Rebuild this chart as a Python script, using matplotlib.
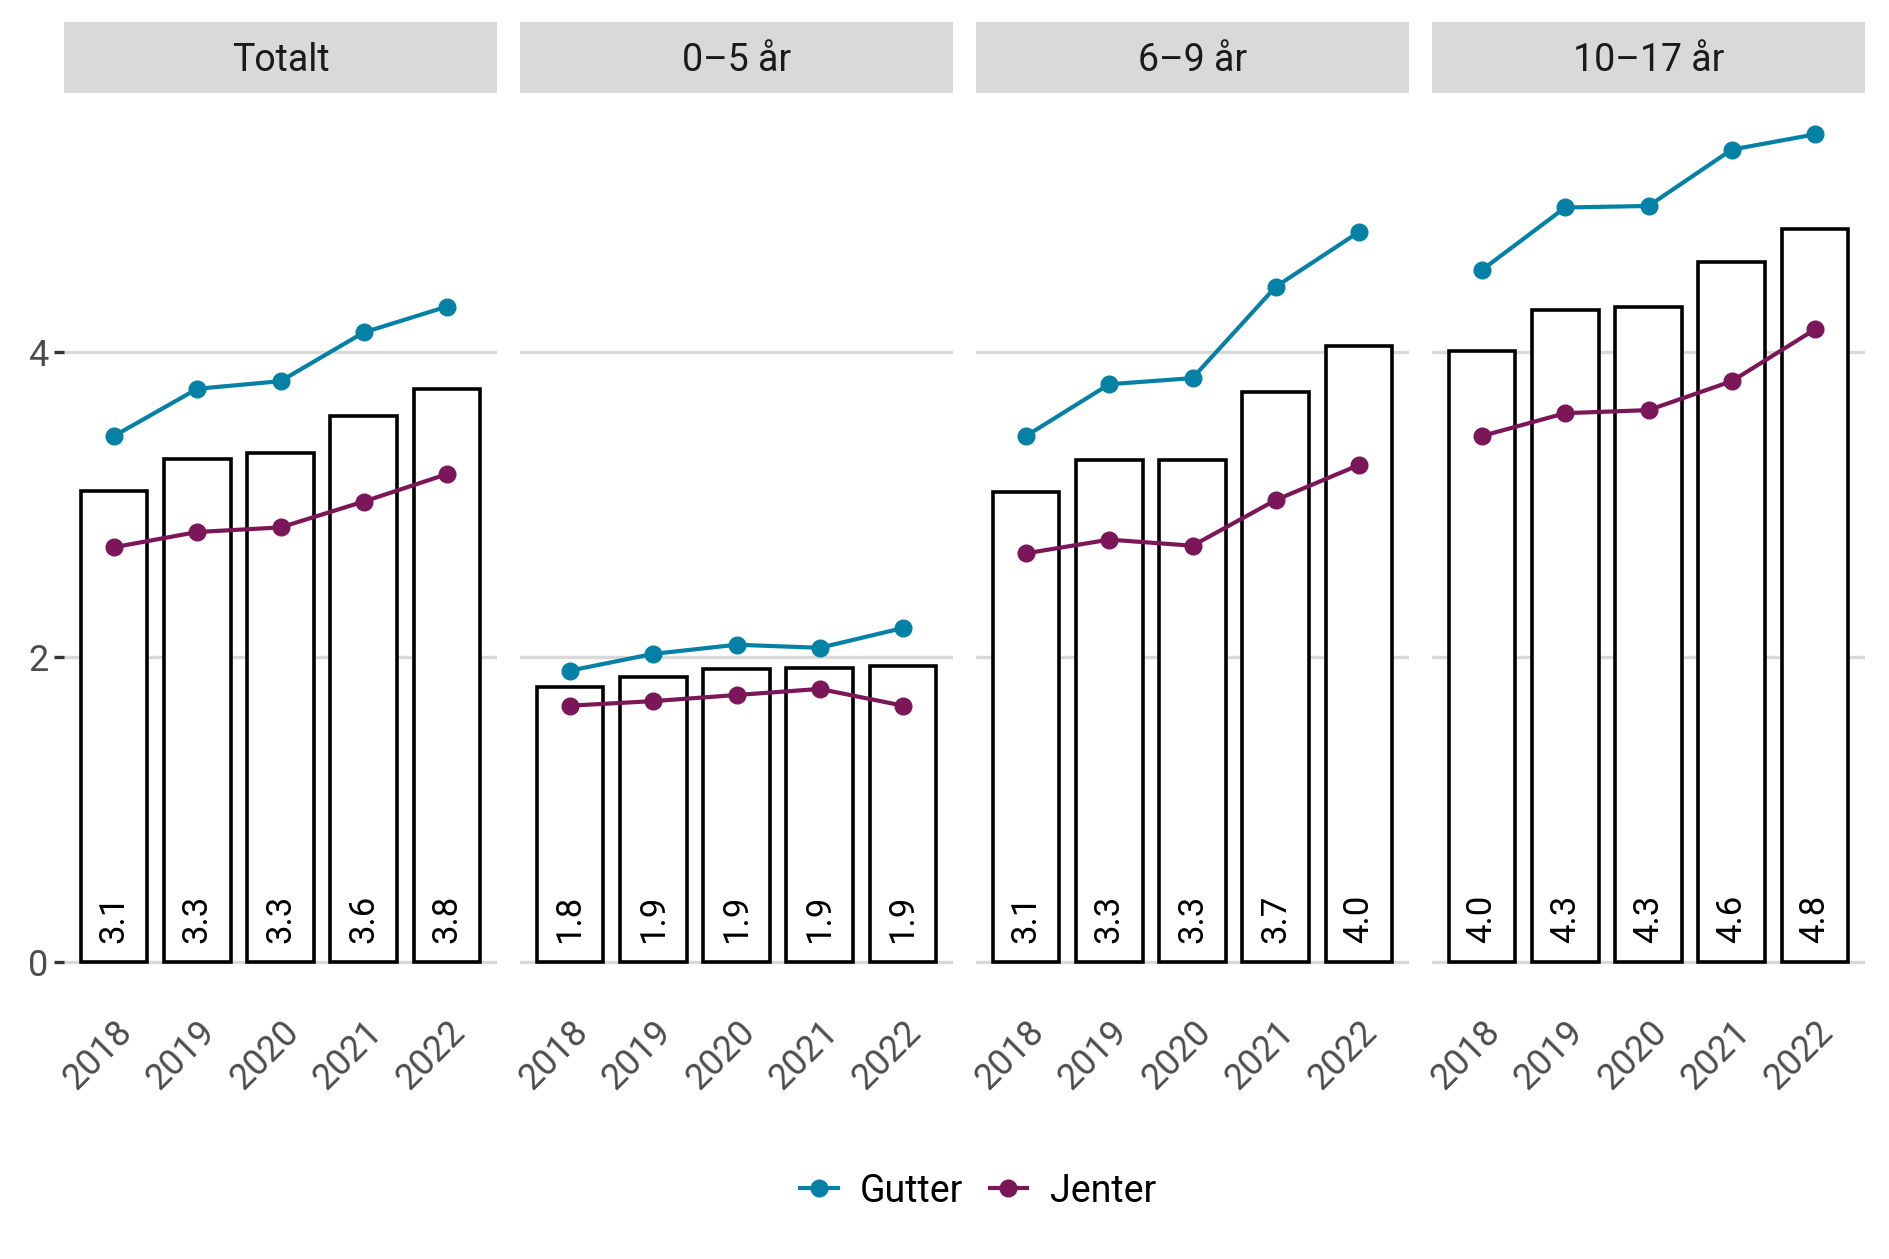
import matplotlib
matplotlib.use("Agg")
import matplotlib.pyplot as plt
from matplotlib.lines import Line2D
import numpy as np

plt.rcParams['font.family'] = ['Roboto', 'DejaVu Sans']

years = ["2018", "2019", "2020", "2021", "2022"]
panels = ["Totalt", "0\u20135 år", "6\u20139 år", "10\u201317 år"]

totals = [
    [3.09, 3.30, 3.34, 3.58, 3.76],
    [1.80, 1.87, 1.92, 1.93, 1.94],
    [3.08, 3.29, 3.29, 3.74, 4.04],
    [4.01, 4.28, 4.30, 4.59, 4.81],
]
gutter = [
    [3.45, 3.76, 3.81, 4.13, 4.30],
    [1.91, 2.02, 2.08, 2.06, 2.19],
    [3.45, 3.79, 3.83, 4.43, 4.79],
    [4.54, 4.95, 4.96, 5.33, 5.43],
]
jenter = [
    [2.72, 2.82, 2.85, 3.02, 3.20],
    [1.68, 1.71, 1.75, 1.79, 1.68],
    [2.68, 2.77, 2.73, 3.03, 3.26],
    [3.45, 3.60, 3.62, 3.81, 4.15],
]

col_g = "#0581A6"
col_j = "#7B1659"

W, H = 1889, 1259
fig = plt.figure(figsize=(W / 100, H / 100), dpi=100)

ymax = 5.43
ylim = (-0.05 * ymax, ymax * 1.05)
x = np.arange(len(years))

left0, pw, step = 64, 433, 456
ptop, pbot = 93, 1003
strip_h = 71
lw = 3.0

for i, name in enumerate(panels):
    l = (left0 + i * step) / W
    ax = fig.add_axes([l, 1 - pbot / H, pw / W, (pbot - ptop) / H])
    ax.set_xlim(-0.6, 4.6)
    ax.set_ylim(*ylim)
    for s in ax.spines.values():
        s.set_visible(False)
    ax.set_yticks([0, 2, 4])
    ax.grid(axis='y', color='#D9D9D9', linewidth=2.4, zorder=0)
    ax.set_axisbelow(True)
    ax.bar(x, totals[i], width=0.8, facecolor='white', edgecolor='black',
           linewidth=2.6, zorder=2)
    for xi, v in zip(x, totals[i]):
        ax.text(xi, 0.12, f"{v:.1f}", rotation=90, ha='left', va='center',
                rotation_mode='anchor', fontsize=25, color='black', zorder=3)
    ax.plot(x, gutter[i], color=col_g, lw=lw, marker='o', ms=12, zorder=4)
    ax.plot(x, jenter[i], color=col_j, lw=lw, marker='o', ms=12, zorder=4)
    ax.set_xticks(x)
    ax.set_xticklabels(years, rotation=45, ha='right', va='top',
                       rotation_mode='anchor', fontsize=26, color='#4D4D4D')
    ax.tick_params(axis='x', length=0, pad=8)
    if i == 0:
        ax.tick_params(axis='y', length=7, width=2.4, color='#333333',
                       labelsize=26, labelcolor='#4D4D4D', pad=4)
    else:
        ax.tick_params(axis='y', length=0, labelleft=False)

    sax = fig.add_axes([l, 1 - ptop / H, pw / W, strip_h / H])
    sax.set_facecolor('#D9D9D9')
    sax.set_xticks([])
    sax.set_yticks([])
    for s in sax.spines.values():
        s.set_visible(False)
    sax.text(0.5, 0.46, name, ha='center', va='center', fontsize=27,
             color='#1A1A1A', transform=sax.transAxes)

handles = [
    Line2D([], [], color=col_g, lw=lw, marker='o', ms=12),
    Line2D([], [], color=col_j, lw=lw, marker='o', ms=12),
]
fig.legend(handles, ["Gutter", "Jenter"], loc='center',
           bbox_to_anchor=(978 / W, 1 - 1191 / H), ncol=2, frameon=False,
           fontsize=27, handlelength=1.0, columnspacing=0.7, handletextpad=0.6)

fig.savefig("out.png", dpi=100)
